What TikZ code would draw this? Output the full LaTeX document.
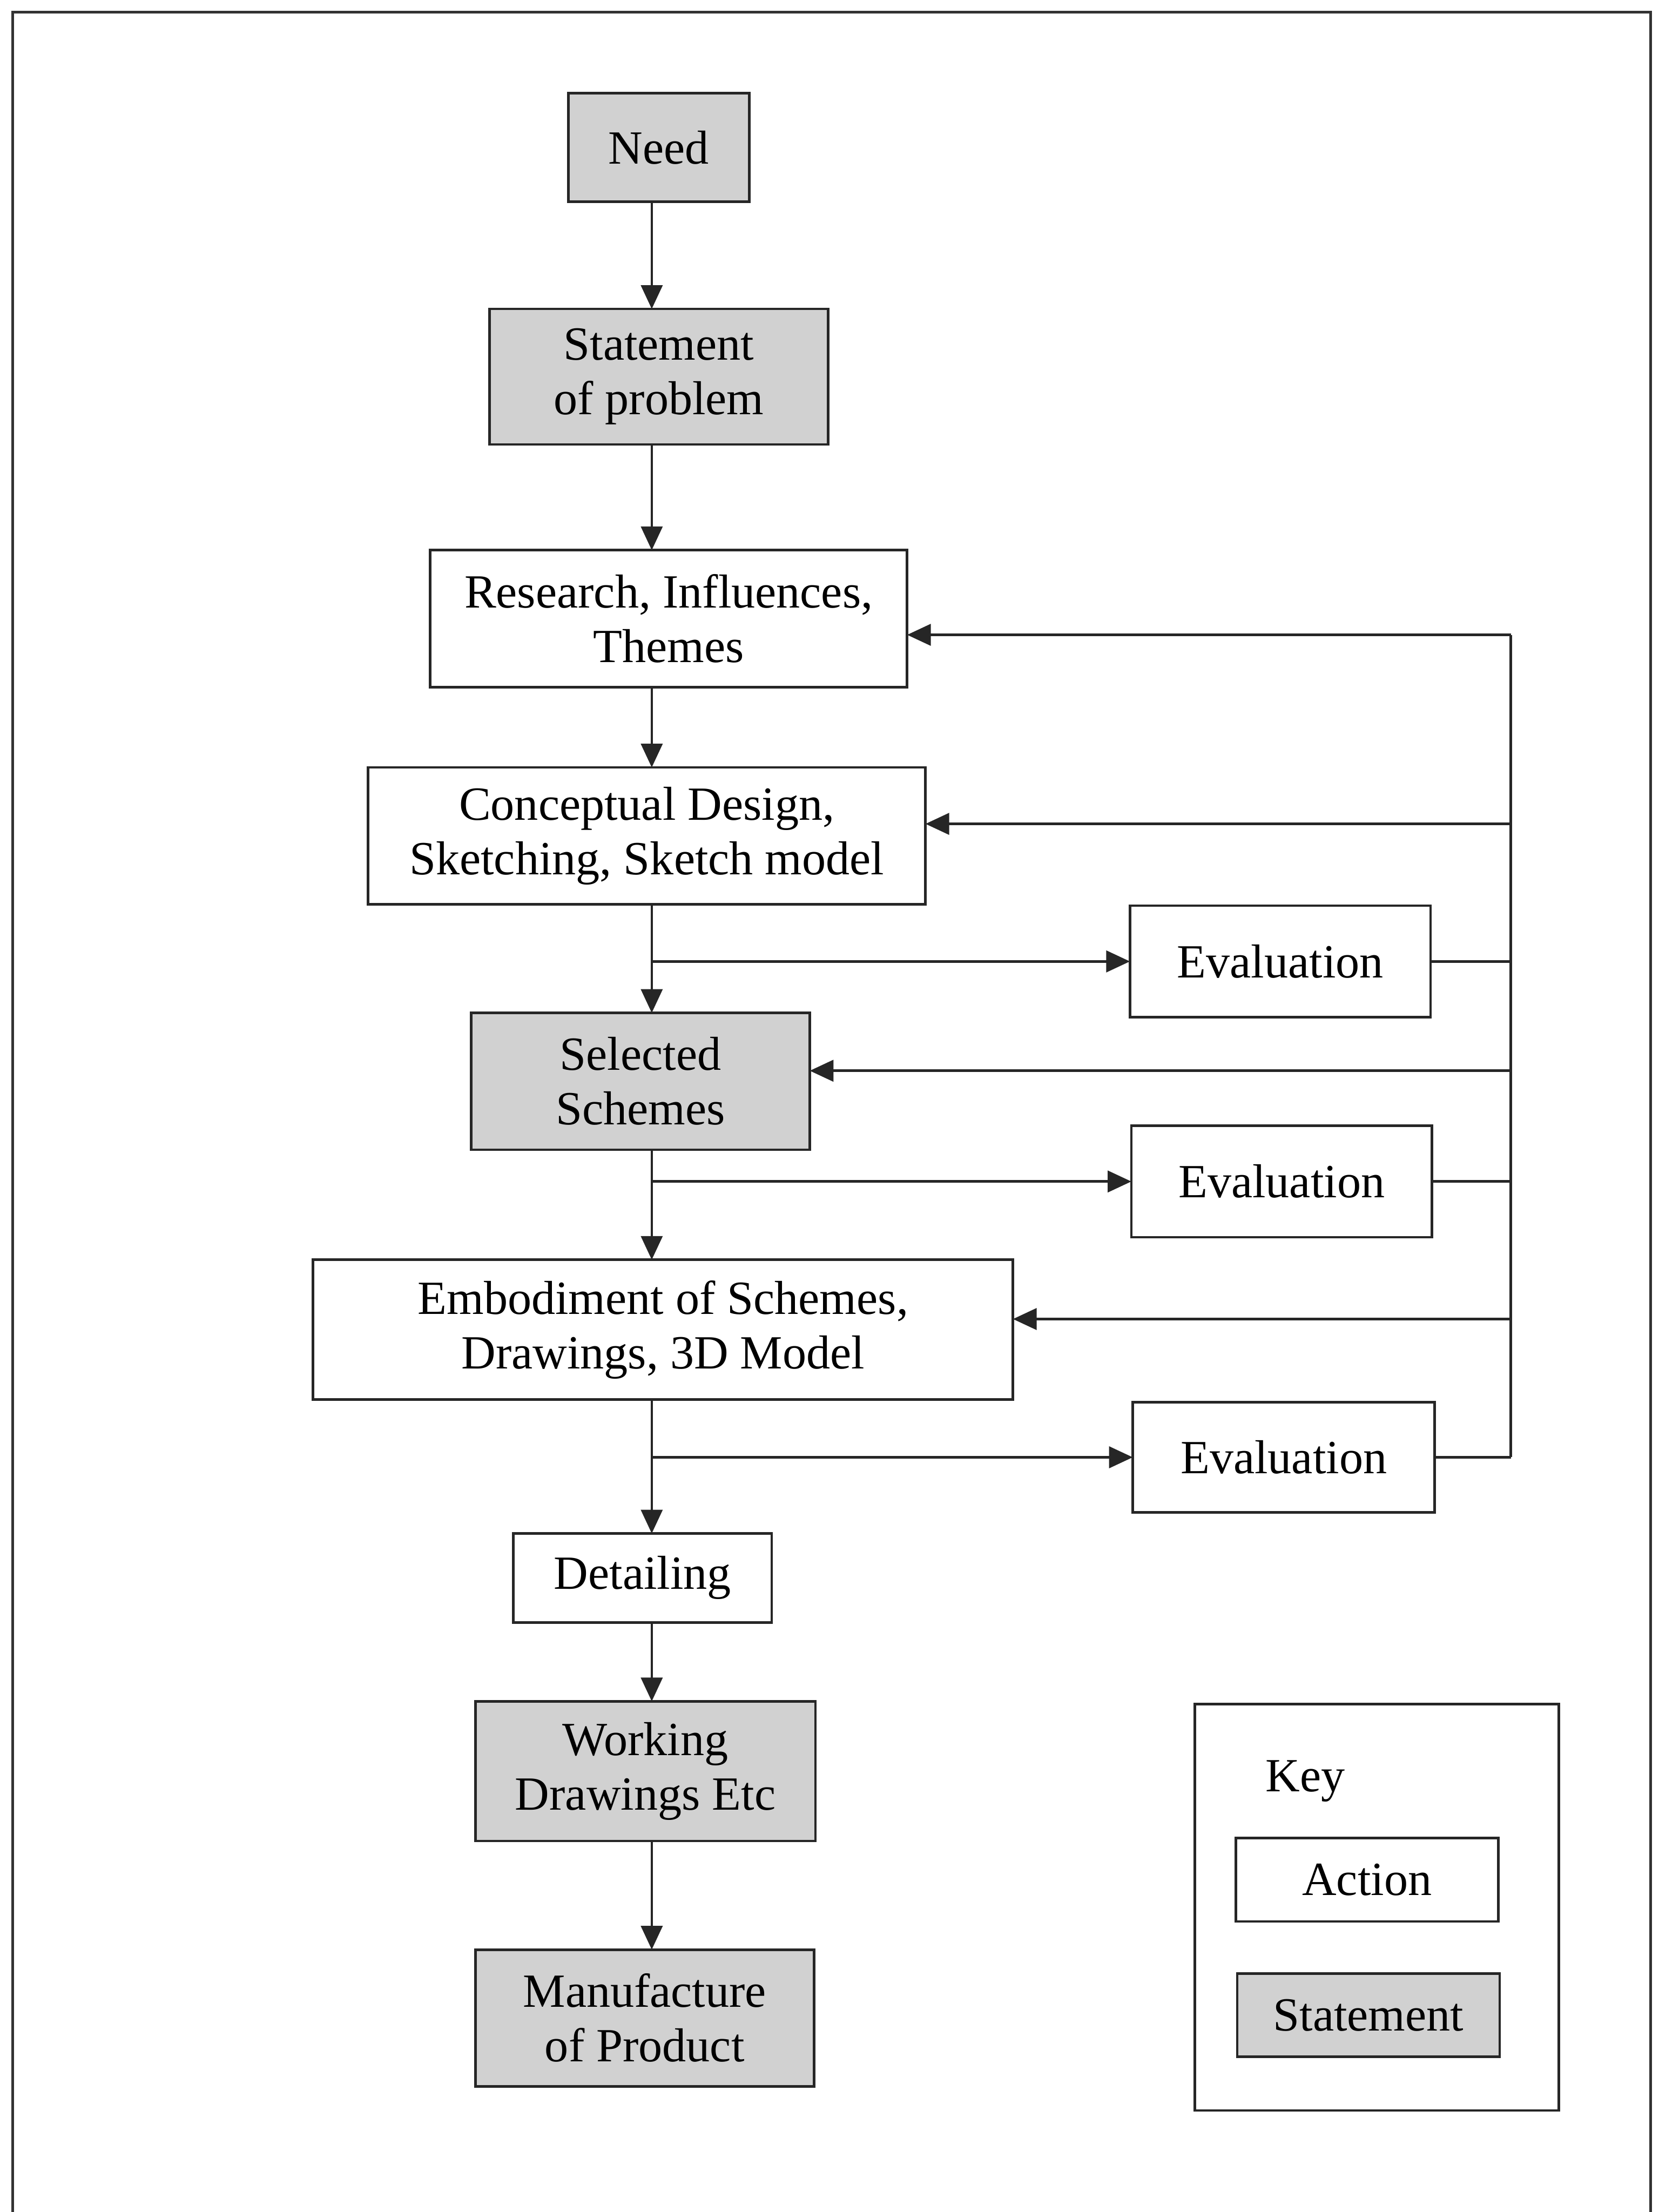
\documentclass[tikz,border=0pt]{standalone}
\usepackage{fontspec}
\setmainfont{Liberation Serif}
\usetikzlibrary{arrows.meta}
\begin{document}
\begin{tikzpicture}[x=0.025cm,y=-0.025cm,
  every node/.style={font=\fontsize{24}{27.5}\selectfont},
  abox/.style={draw=black!85,line width=1.3pt,fill=white,inner sep=0pt,outer sep=0pt,align=center},
  sbox/.style={abox,fill=black!18},
  ln/.style={line width=1.25pt,draw=black!85},
  arr/.style={ln,-{Triangle[length=0.42cm,width=0.38cm]}},
  frame/.style={line width=1.3pt,draw=black!80}]
\useasboundingbox (0,0) rectangle (1176,1568);
\draw[frame] (9,1568) -- (9,8.5) -- (1170,8.5) -- (1170,1568);
% main column
\node[sbox,minimum width=3.2cm,minimum height=1.925cm] (need) at (467,104.5) {Need};
\node[sbox,minimum width=6.0cm,minimum height=2.4cm] (stmt) at (467,267) {Statement\\of problem};
\node[abox,minimum width=8.45cm,minimum height=2.425cm] (research) at (474,438.5) {Research, Influences,\\Themes};
\node[abox,minimum width=9.875cm,minimum height=2.425cm] (concept) at (458.5,592.5) {Conceptual Design,\\Sketching, Sketch model};
\node[sbox,minimum width=6.0cm,minimum height=2.425cm] (selected) at (454,766.5) {Selected\\Schemes};
\node[abox,minimum width=12.4cm,minimum height=2.475cm] (embod) at (470,942.5) {Embodiment of Schemes,\\Drawings, 3D Model};
\node[abox,minimum width=4.575cm,minimum height=1.575cm] (detail) at (455.5,1118.5) {Detailing};
\node[sbox,minimum width=6.025cm,minimum height=2.475cm] (working) at (457.5,1255.5) {Working\\Drawings Etc};
\node[sbox,minimum width=6.0cm,minimum height=2.425cm] (manuf) at (457,1430.5) {Manufacture\\of Product};
% evaluations
\node[abox,minimum width=5.325cm,minimum height=1.975cm] (ev1) at (907.5,681.5) {Evaluation};
\node[abox,minimum width=5.325cm,minimum height=1.975cm] (ev2) at (908.5,837.5) {Evaluation};
\node[abox,minimum width=5.35cm,minimum height=1.95cm] (ev3) at (910,1033) {Evaluation};
% key
\node[abox,minimum width=6.45cm,minimum height=7.2cm] (keybox) at (976,1352) {};
\node[anchor=base west,inner sep=0pt] (keytxt) at (897,1270) {Key};
\node[abox,minimum width=4.65cm,minimum height=1.475cm] (action) at (969,1332.5) {Action};
\node[sbox,minimum width=4.65cm,minimum height=1.475cm] (kstmt) at (970,1428.5) {Statement};
% coordinates
\coordinate (mx) at (462,0);
\coordinate (fx) at (1071,0);
\coordinate (r1) at (0,450);
\coordinate (r2) at (0,584);
\coordinate (r3) at (0,759);
\coordinate (r4) at (0,935);
% main arrows
\draw[arr] (need.south -| mx) -- (stmt.north -| mx);
\draw[arr] (stmt.south -| mx) -- (research.north -| mx);
\draw[arr] (research.south -| mx) -- (concept.north -| mx);
\draw[arr] (concept.south -| mx) -- (selected.north -| mx);
\draw[arr] (selected.south -| mx) -- (embod.north -| mx);
\draw[arr] (embod.south -| mx) -- (detail.north -| mx);
\draw[arr] (detail.south -| mx) -- (working.north -| mx);
\draw[arr] (working.south -| mx) -- (manuf.north -| mx);
% to evaluations
\draw[arr] (mx |- ev1.west) -- (ev1.west);
\draw[arr] (mx |- ev2.west) -- (ev2.west);
\draw[arr] (mx |- ev3.west) -- (ev3.west);
% feedback
\draw[ln] (ev1.east) -- (ev1.east -| fx);
\draw[ln] (ev2.east) -- (ev2.east -| fx);
\draw[ln] (ev3.east) -- (ev3.east -| fx);
\draw[ln] (fx |- r1) -- (fx |- ev3.east);
\draw[arr] (fx |- r1) -- (r1 -| research.east);
\draw[arr] (fx |- r2) -- (r2 -| concept.east);
\draw[arr] (fx |- r3) -- (r3 -| selected.east);
\draw[arr] (fx |- r4) -- (r4 -| embod.east);
\end{tikzpicture}
\end{document}
